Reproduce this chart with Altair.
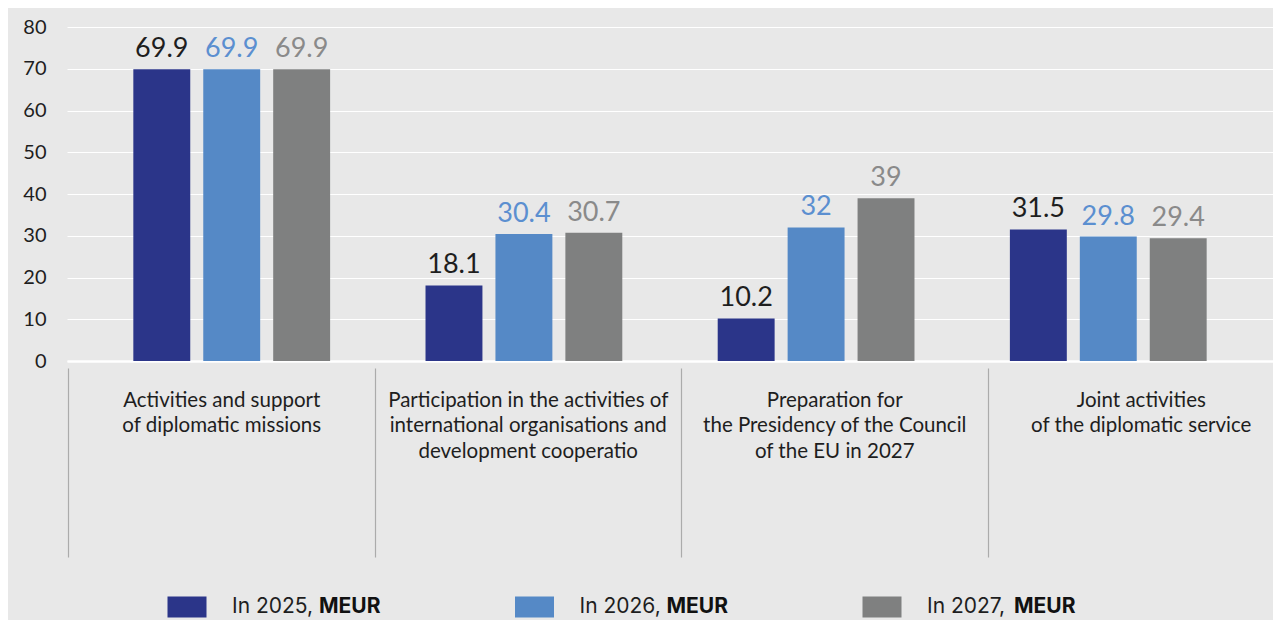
import altair as alt
import pandas as pd

categories = [
    "Activities and support\nof diplomatic missions",
    "Participation in the activities of\ninternational organisations and\ndevelopment cooperatio",
    "Preparation for\nthe Presidency of the Council\nof the EU in 2027",
    "Joint activities\nof the diplomatic service",
]
years = ["In 2025", "In 2026", "In 2027"]
values_2025 = [69.9, 18.1, 10.2, 31.5]
values_2026 = [69.9, 30.4, 32, 29.8]
values_2027 = [69.9, 30.7, 39, 29.4]
bar_colors = ["#2b3589", "#5589c6", "#7f8080"]
label_colors = ["#1e1e1e", "#5b8fd0", "#8a8a8a"]
y_ticks = [0, 10, 20, 30, 40, 50, 60, 70, 80]

rows = []
for yr, vals in zip(years, [values_2025, values_2026, values_2027]):
    for c, v in zip(categories, vals):
        rows.append({"category": c, "year": yr, "value": v})
df = pd.DataFrame(rows)
cat_df = pd.DataFrame({"category": categories})
leg_df = pd.DataFrame({"year": [y + "," for y in years], "unit": ["MEUR"] * 3})

FONT = "Lato"
LEG_FONT = "Inter"

x_bars = alt.X(
    "category:N", sort=categories,
    scale=alt.Scale(paddingInner=0.3265, paddingOuter=0.227),
    axis=alt.Axis(orient="bottom", labels=False, ticks=False, title=None,
                  domain=True, domainColor="white", domainWidth=2.5, grid=False),
)
x_off = alt.XOffset("year:N", sort=years, scale=alt.Scale(paddingInner=0.186))
y_enc = alt.Y(
    "value:Q", scale=alt.Scale(domain=[0, 80]),
    axis=alt.Axis(values=y_ticks, title=None, ticks=False, domain=False,
                  grid=True, gridColor="white", gridWidth=1,
                  labelFontSize=20, labelColor="#1e1e1e", labelPadding=21,
                  labelFont=FONT),
)

bars = alt.Chart(df).mark_bar().encode(
    x=x_bars, xOffset=x_off, y=y_enc,
    color=alt.Color("year:N", scale=alt.Scale(domain=years, range=bar_colors), legend=None),
)

texts = alt.Chart(df).mark_text(
    baseline="alphabetic", dy=-12, fontSize=27, font=FONT
).encode(
    x=alt.X("category:N", sort=categories), xOffset=x_off,
    y=alt.Y("value:Q"),
    text=alt.Text("value:Q", format="~g"),
    color=alt.Color("year:N", scale=alt.Scale(domain=years, range=label_colors), legend=None),
)

bar_layer = alt.layer(bars, texts).resolve_scale(color="independent")

cat_axis = alt.Chart(cat_df).mark_point(opacity=0).encode(
    x=alt.X(
        "category:N", sort=categories,
        scale=alt.Scale(range=[1, 1227], paddingInner=0, paddingOuter=0),
        axis=alt.Axis(orient="bottom", title=None, domain=False, grid=False,
                      offset=7, ticks=True, tickBand="extent", tickSize=189,
                      tickColor="#ababab", tickWidth=1.2,
                      labelAngle=0, labelAlign="center",
                      labelPadding=-167, labelBaseline="top",
                      labelExpr="split(datum.label, '\\n')",
                      labelFontSize=20.5, labelLineHeight=25.5, labelColor="#1e1e1e",
                      labelFont=FONT, labelLimit=400, labelOverlap=False),
    ),
    y=alt.value(0),
)

leg_x = alt.X("year:N", sort=[y + "," for y in years],
              scale=alt.Scale(type="point", range=[120, 815], padding=0), axis=None)
leg_rect = alt.Chart(leg_df).mark_rect(width=39, height=21).encode(
    x=leg_x, y=alt.value(580),
    color=alt.Color("year:N", scale=alt.Scale(range=bar_colors), legend=None),
)
leg_txt = alt.Chart(leg_df).mark_text(
    align="left", baseline="middle", dx=45, fontSize=21, font=LEG_FONT, color="#1e1e1e"
).encode(x=leg_x, y=alt.value(580), text="year:N")
leg_txt2 = alt.Chart(leg_df).mark_text(
    align="left", baseline="middle", dx=132, fontSize=21, font=LEG_FONT,
    fontWeight="bold", color="#111111"
).encode(x=leg_x, y=alt.value(580), text="unit:N")

legend_layer = alt.layer(leg_rect, leg_txt, leg_txt2)

chart = alt.layer(bar_layer, cat_axis, legend_layer).resolve_scale(
    x="independent", color="independent"
).resolve_axis(x="independent").properties(
    width=1206, height=334,
    autosize=alt.AutoSizeParams(type="none"),
    padding={"left": 59, "top": 19, "right": 0, "bottom": 259},
    background="#e8e8e8",
).configure_view(stroke=None)

chart.save("out.html", embed_options={"renderer": "svg", "actions": False})
